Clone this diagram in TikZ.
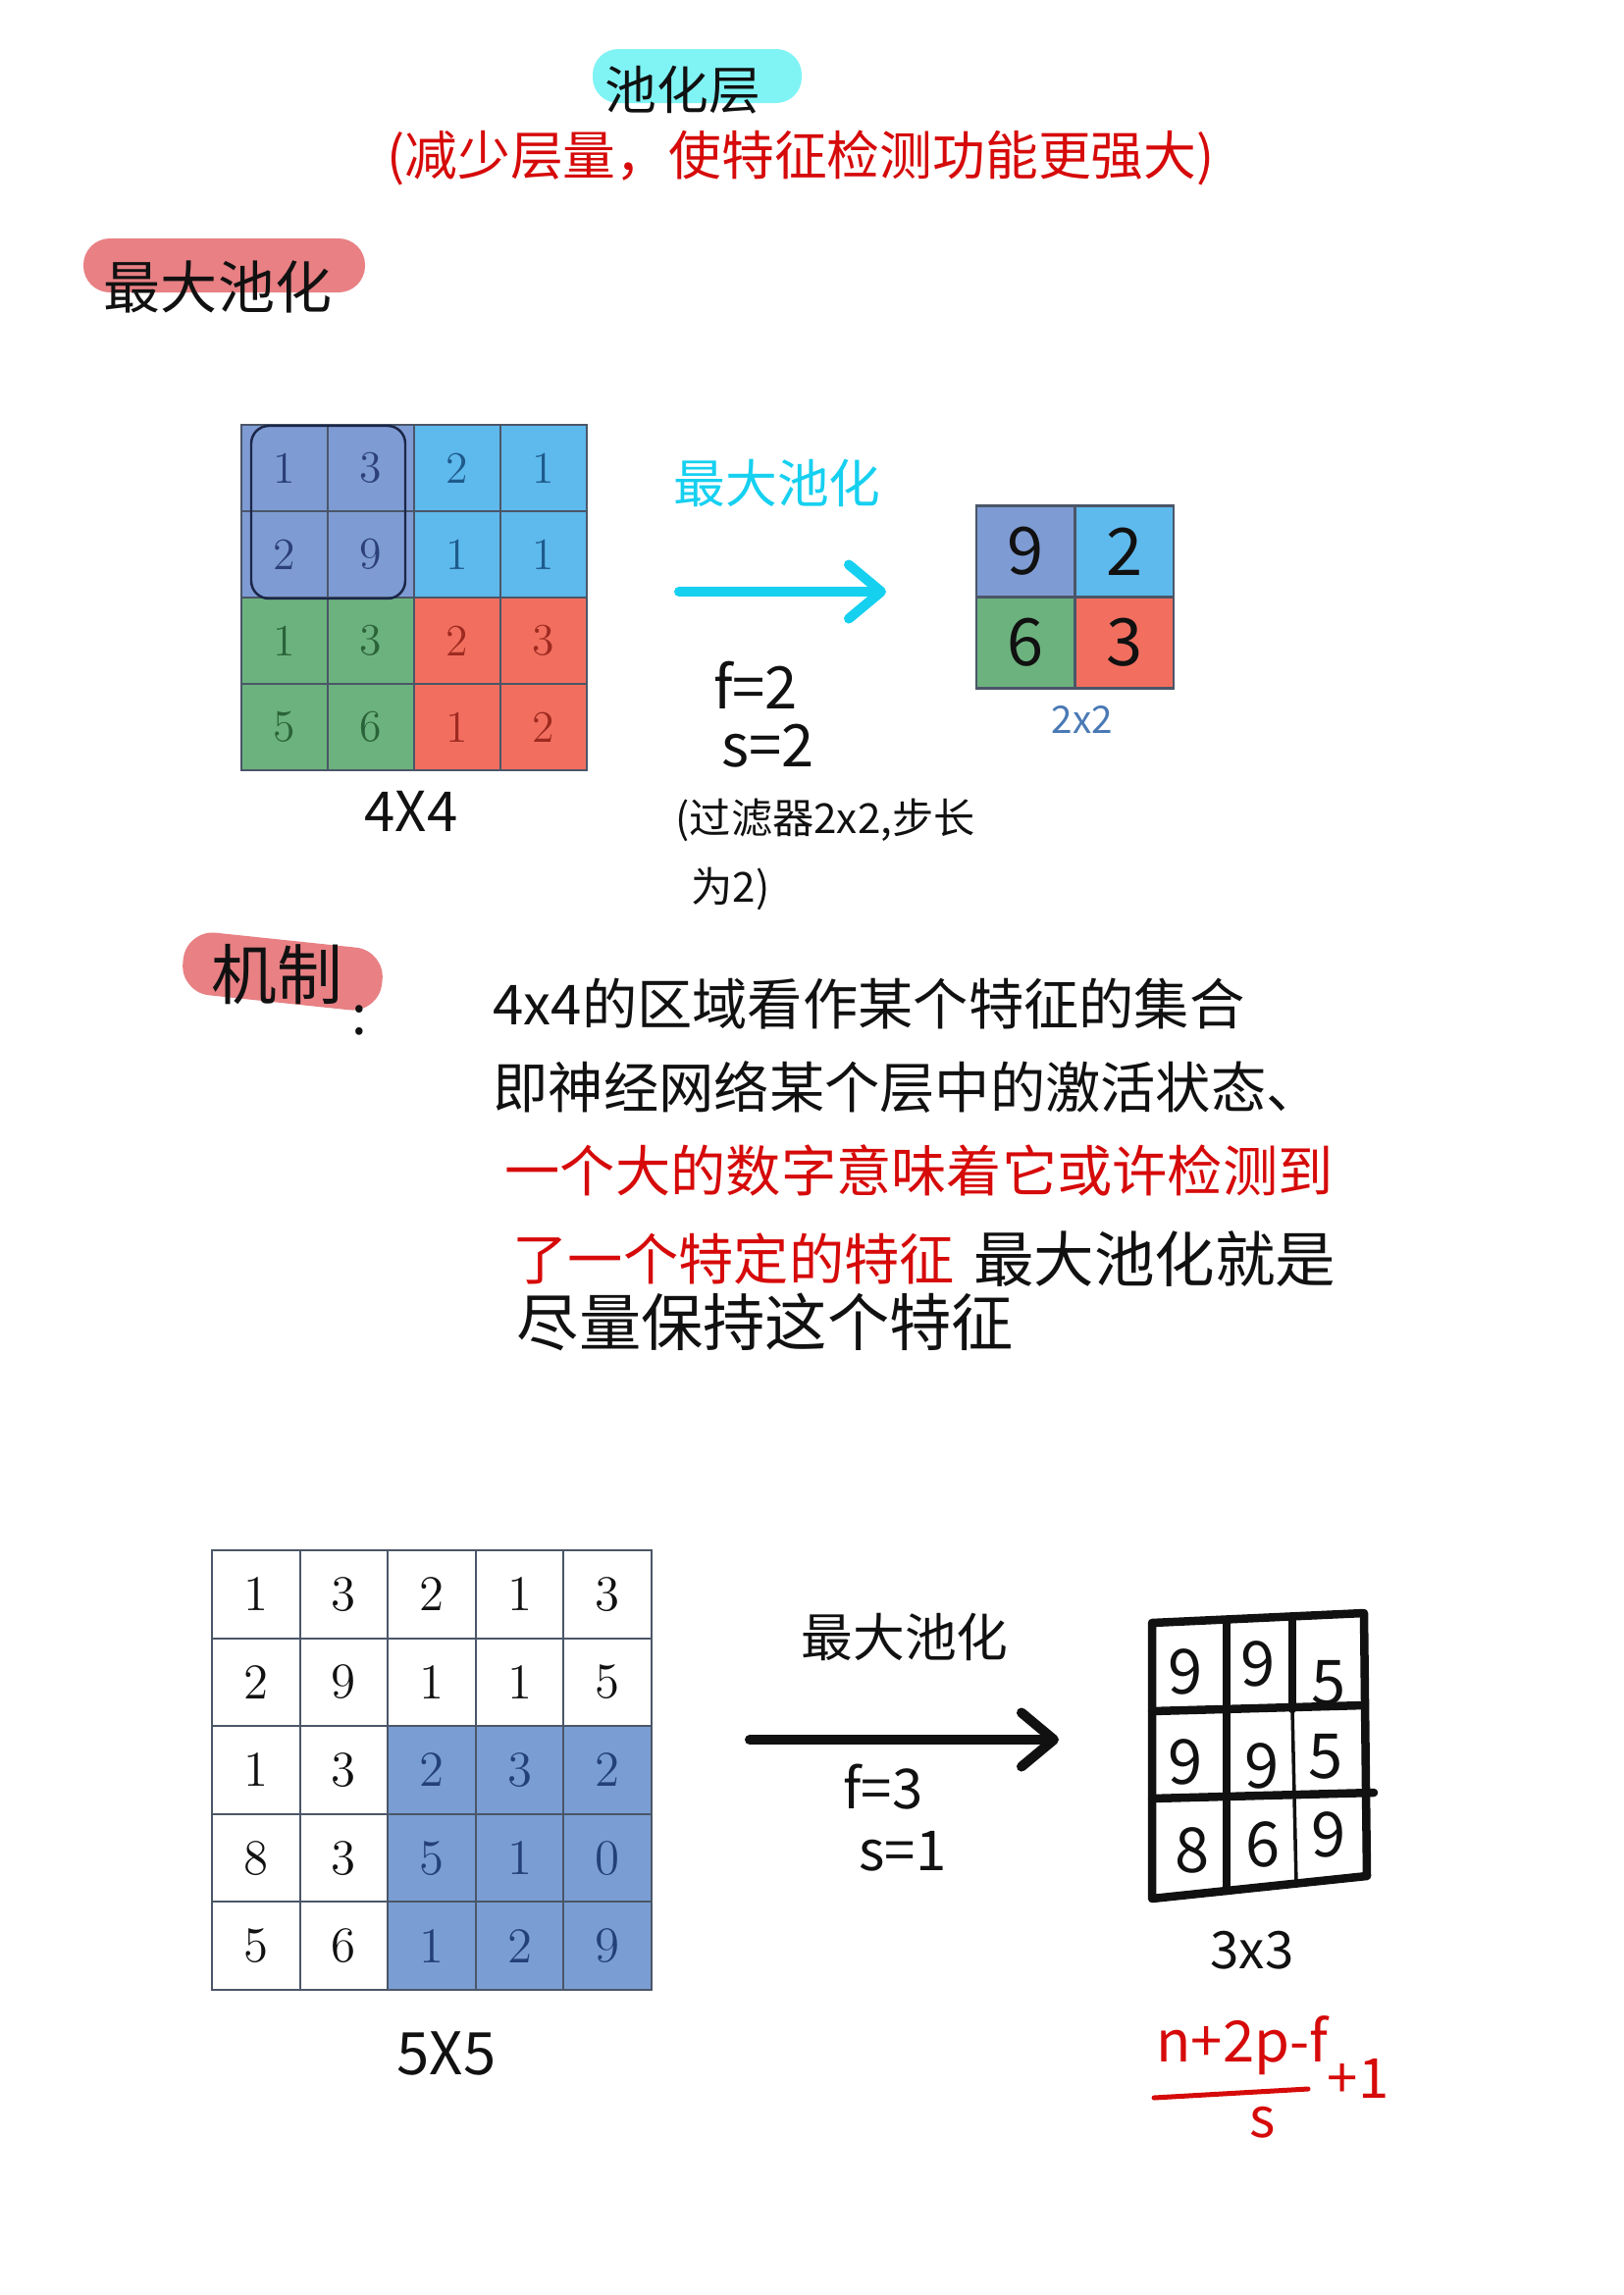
\documentclass[tikz,border=0pt]{standalone}
\usepackage{fontspec}
\newfontfamily\cjk{Noto Sans CJK SC}
\usetikzlibrary{positioning,arrows.meta}

\definecolor{hlcyan}{HTML}{80F3F5}
\definecolor{hlpink}{HTML}{E88084}
\definecolor{inkcyan}{HTML}{16D0F0}
\definecolor{inkred}{HTML}{D60A0A}
\definecolor{inkblack}{HTML}{111111}
\definecolor{gridline}{HTML}{4B5668}
\definecolor{puFill}{HTML}{7E9BD3}
\definecolor{puInk}{HTML}{2C3F78}
\definecolor{blFill}{HTML}{5EB9EC}
\definecolor{blInk}{HTML}{1E5A8C}
\definecolor{grFill}{HTML}{6CB27E}
\definecolor{grInk}{HTML}{2A6338}
\definecolor{rdFill}{HTML}{F26F5F}
\definecolor{rdInk}{HTML}{9E2A20}
\definecolor{bxFill}{HTML}{7A9ED4}
\definecolor{bxInk}{HTML}{24407A}
\definecolor{labelblue}{HTML}{4A7AB5}

\begin{document}
\begin{tikzpicture}[
    x=0.01cm, y=-0.01cm,
    every node/.style={text=inkblack, inner sep=0pt},
    hand/.style={font=\cjk\fontsize{#1}{#1}\selectfont},
    cell/.style={draw=gridline, line width=0.6pt, minimum size=0.88cm, font=\fontsize{13}{15}\selectfont},
    pu/.style={cell, fill=puFill, text=puInk},
    bl/.style={cell, fill=blFill, text=blInk},
    gr/.style={cell, fill=grFill, text=grInk},
    rd/.style={cell, fill=rdFill, text=rdInk},
    cellfive/.style={draw=gridline, line width=0.6pt, minimum size=0.896cm, font=\fontsize{14.5}{16}\selectfont},
    wh/.style={cellfive, fill=white},
    bx/.style={cellfive, fill=bxFill, text=bxInk},
    outcell/.style={draw=gridline, line width=0.6pt, minimum width=1.0cm, minimum height=0.93cm, hand=19},
    arrowline/.style={line width=0.1cm, line cap=round, -{Straight Barb[length=0.33cm, width=0.55cm, round]}},
    thickgrid/.style={line width=0.085cm, line cap=round, line join=round}
]

    % Page
    \fill[white] (0,0) rectangle (1654,2339);
    \useasboundingbox (0,0) rectangle (1654,2339);

    % --- TITLE ---
    \fill[hlcyan, rounded corners=0.26cm] (604,50) rectangle (817,105);
    \node[hand=15] (title) at (696,92) {池化层};
    \node[hand=15.3, text=inkred] (subtitle) at (816,161) {(减少层量，使特征检测功能更强大)};

    % --- MAX POOLING HEADER ---
    \fill[hlpink, rounded corners=0.27cm] (85,243) rectangle (372,298);
    \node[hand=16.5] (maxhead) at (222,292) {最大池化};

    % --- 4x4 INPUT ---
    \foreach \v/\s [count=\c] in {1/pu,3/pu,2/bl,1/bl}
        \node[\s] (a1\c) at ({202+88*\c},477) {\v};
    \foreach \v/\s [count=\c] in {2/pu,9/pu,1/bl,1/bl}
        \node[\s] (a2\c) at ({202+88*\c},565) {\v};
    \foreach \v/\s [count=\c] in {1/gr,3/gr,2/rd,3/rd}
        \node[\s] (a3\c) at ({202+88*\c},653) {\v};
    \foreach \v/\s [count=\c] in {5/gr,6/gr,1/rd,2/rd}
        \node[\s] (a4\c) at ({202+88*\c},741) {\v};

    % hand-drawn window
    \draw[puInk!60!black, line width=0.7pt, rounded corners=0.18cm] (256,434) rectangle (413,610);

    \node[hand=16] (lbl4) at (419,827) {4X4};

    % --- FIRST ARROW ---
    \node[hand=15, text=inkcyan] (cyanlbl) at (792,492) {最大池化};
    \coordinate (ca) at (692,603);
    \coordinate (cb) at (903,603);
    \draw[arrowline, inkcyan] (ca) -- (cb);

    \node[hand=17] (f2) at (770,698) {f=2};
    \node[hand=17] (s2) at (783,760) {s=2};
    \node[hand=12, anchor=west] (note1) at (688,836) {(过滤器2x2,步长};
    \node[hand=12, anchor=west] (note2) at (704,906) {为2)};

    % --- 2x2 OUTPUT ---
    \node[outcell, fill=puFill] (o11) at (1045,562) {9};
    \node[outcell, fill=blFill] (o12) at (1146,562) {2};
    \node[outcell, fill=grFill] (o21) at (1045,655) {6};
    \node[outcell, fill=rdFill] (o22) at (1146,655) {3};

    \node[hand=11, text=labelblue] (lbl2) at (1103,733) {2x2};

    % --- MECHANISM ---
    \fill[hlpink, rounded corners=0.3cm, rotate around={-6:(288,990)}] (186,958) rectangle (390,1022);
    \node[hand=19] (mech) at (282,993) {机制};
    \node[hand=16] (colon) at (366,1040) {:};

    \node[hand=16, anchor=west] (line1) at (502,1023) {4x4的区域看作某个特征的集合};
    \node[hand=16, anchor=west] (line2) at (502,1108) {即神经网络某个层中的激活状态、};
    \node[hand=16, anchor=west, text=inkred] (line3) at (514,1193) {一个大的数字意味着它或许检测到};
    \node[hand=16, anchor=west, text=inkred] (line4a) at (522,1283) {了一个特定的特征};
    \node[hand=17.5, right=0.18cm of line4a] (line4b) {最大池化就是};
    \node[hand=18, anchor=west] (line5) at (526,1347) {尽量保持这个特征};

    % --- 5x5 INPUT ---
    \foreach \v/\s [count=\c] in {1/wh,3/wh,2/wh,1/wh,3/wh}
        \node[\s] (b1\c) at ({171.2+89.6*\c},1624.8) {\v};
    \foreach \v/\s [count=\c] in {2/wh,9/wh,1/wh,1/wh,5/wh}
        \node[\s] (b2\c) at ({171.2+89.6*\c},1714.4) {\v};
    \foreach \v/\s [count=\c] in {1/wh,3/wh,2/bx,3/bx,2/bx}
        \node[\s] (b3\c) at ({171.2+89.6*\c},1804) {\v};
    \foreach \v/\s [count=\c] in {8/wh,3/wh,5/bx,1/bx,0/bx}
        \node[\s] (b4\c) at ({171.2+89.6*\c},1893.6) {\v};
    \foreach \v/\s [count=\c] in {5/wh,6/wh,1/bx,2/bx,9/bx}
        \node[\s] (b5\c) at ({171.2+89.6*\c},1983.2) {\v};

    \node[hand=17] (lbl5) at (455,2093) {5X5};

    % --- SECOND ARROW ---
    \node[hand=15] (blacklbl) at (922,1668) {最大池化};
    \coordinate (ba) at (764,1773);
    \coordinate (bb) at (1079,1773);
    \draw[arrowline, inkblack] (ba) -- (bb);

    \node[hand=16] (f3) at (900,1821) {f=3};
    \node[hand=16] (s1) at (920,1887) {s=1};

    % --- 3x3 OUTPUT (hand drawn) ---
    \coordinate (G1) at (1174,1654);  % top left
    \coordinate (G2) at (1390,1644);  % top right
    \coordinate (G3) at (1393,1912);  % bottom right
    \coordinate (G4) at (1174,1935);  % bottom left

    \draw[thickgrid, inkblack] (G1) -- (G2) -- (G3) -- (G4) -- cycle;
    \draw[thickgrid, inkblack] (1250,1651) -- (1250,1927);
    \draw[thickgrid, inkblack] (1317,1648) -- (1317,1742);
    \draw[inkblack, line width=1pt] (1317,1742) -- (1321,1920);
    \draw[thickgrid, inkblack] (1174,1744) -- (1390,1738);
    \draw[thickgrid, inkblack] (1174,1833) -- (1400,1827);

    \node[hand=18] (q11) at (1208,1704) {9};
    \node[hand=18] (q12) at (1282,1696) {9};
    \node[hand=18] (q13) at (1354,1715) {5};
    \node[hand=18] (q21) at (1208,1796) {9};
    \node[hand=18] (q22) at (1286,1800) {9};
    \node[hand=18] (q23) at (1351,1790) {5};
    \node[hand=18] (q31) at (1215,1886) {8};
    \node[hand=18] (q32) at (1287,1880) {6};
    \node[hand=18] (q33) at (1354,1870) {9};

    \node[hand=15] (lbl3) at (1276,1988) {3x3};

    % --- OUTPUT SIZE FORMULA ---
    \node[hand=16.5, text=inkred] (num) at (1266,2085) {n+2p-f};
    \draw[inkred, line width=0.05cm, line cap=round] (1176,2138) -- (1333,2129);
    \node[hand=16, text=inkred] (den) at (1287,2163) {s};
    \node[hand=16, text=inkred] (plus) at (1384,2118) {+1};

\end{tikzpicture}
\end{document}
